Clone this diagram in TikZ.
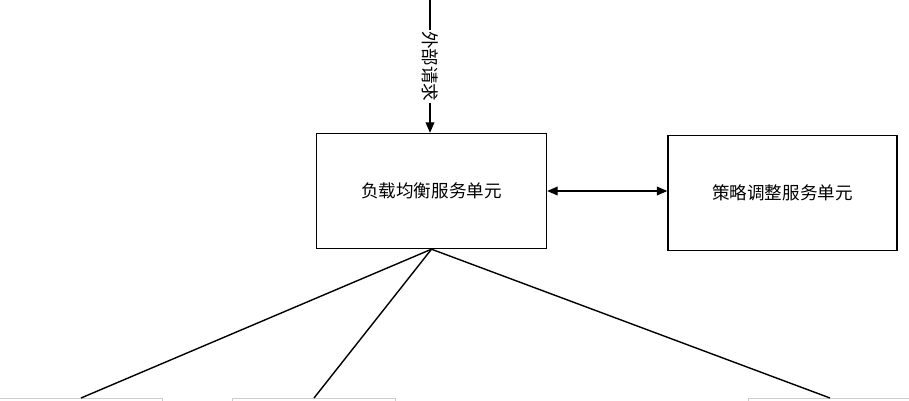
\documentclass[tikz,border=0pt]{standalone}
\usepackage{fontspec}
\setmainfont{Noto Sans CJK SC}
\usetikzlibrary{arrows.meta}
\begin{document}
\begin{tikzpicture}[x=0.02cm,y=-0.02cm,>={Triangle[length=6pt,width=5pt]},
  unit/.style={rectangle,draw,thick,minimum width=4.6cm,minimum height=2.3cm,font=\fontsize{10}{12}\selectfont},
  leaf/.style={rectangle,draw=gray!40,minimum width=3.26cm,minimum height=2cm,anchor=north}]
  \useasboundingbox (0,0) rectangle (909,400);
  \clip (0,0) rectangle (909,400);

  \node[unit] (lb) at (431.5,191) {负载均衡服务单元};
  \node[unit,minimum width=4.58cm] (policy) at (782.5,193) {策略调整服务单元};
  \coordinate (req) at (430,0);

  \node[leaf] (s1) at (81,398) {};
  \node[leaf] (s2) at (314,398) {};
  \node[leaf] (s3) at (830,398) {};

  \draw[thick,->] (req) -- node[fill=white,rotate=-90,inner sep=1pt,font=\fontsize{10}{12}\selectfont] {外部请求} (req |- lb.north);
  \draw[thick,<->] (lb.east) -- (policy.west |- lb.east);
  \draw[thick] (lb.south) -- (s1.north);
  \draw[thick] (lb.south) -- (s2.north);
  \draw[thick] (lb.south) -- (s3.north);

\end{tikzpicture}
\end{document}
